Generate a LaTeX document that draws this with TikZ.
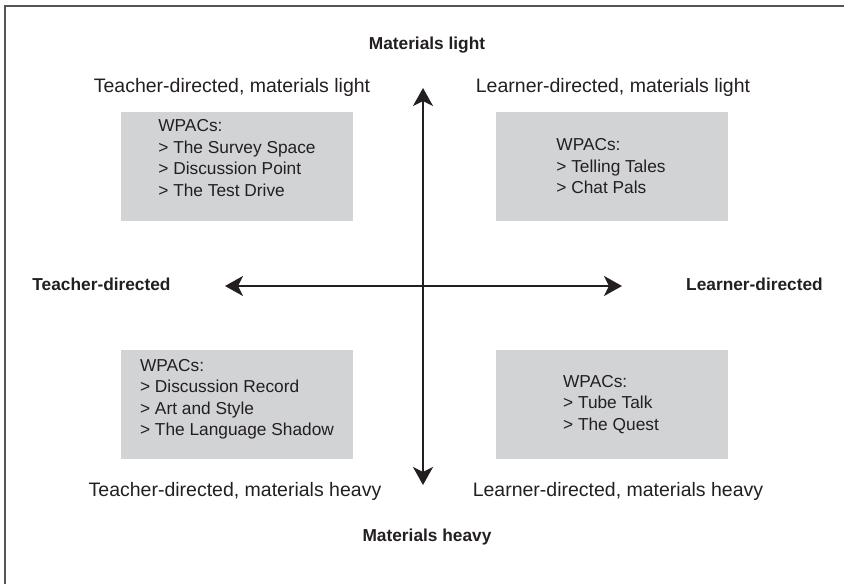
\documentclass[tikz,border=0pt]{standalone}
\usepackage{fontspec}
\setmainfont{Liberation Sans}
\usetikzlibrary{arrows.meta}
\definecolor{boxgrey}{HTML}{D1D3D4}
\definecolor{inkgrey}{HTML}{231F20}
\definecolor{framegrey}{HTML}{555555}
\tikzset{
  axislabel/.style={font=\fontsize{17.3}{20}\selectfont\bfseries, text=inkgrey, inner sep=0pt},
  quadlabel/.style={font=\fontsize{19.5}{23}\selectfont, text=inkgrey, inner sep=0pt},
  wpacbox/.style={fill=boxgrey, minimum width=232pt, minimum height=109pt, inner sep=0pt},
  wpactext/.style={align=left, inner sep=0pt, font=\fontsize{17.3}{21.5}\selectfont, text=inkgrey},
  axisarrow/.style={line width=2pt, inkgrey,
    {Stealth[length=18pt,width=20pt,inset=5pt]}-{Stealth[length=18pt,width=20pt,inset=5pt]}}
}
\begin{document}
\begin{tikzpicture}[x=1pt,y=-1pt]
  \useasboundingbox (0,0) rectangle (844,584);
  % outer frame (only its top and left edges fall inside the page)
  \draw[framegrey, line width=1.4pt] (5,590) -- (5,6) -- (850,6);

  % axis titles
  \node[axislabel] (mlight) at (427,45) {Materials light};
  \node[axislabel] (mheavy) at (427,537) {Materials heavy};
  \node[axislabel] (tdir) at (101.5,284) {Teacher-directed};
  \node[axislabel] (ldir) at (754.5,284) {Learner-directed};

  % quadrant titles
  \node[quadlabel] (tl) at (232,87) {Teacher-directed, materials light};
  \node[quadlabel] (tr) at (613,87) {Learner-directed, materials light};
  \node[quadlabel] (bl) at (235,491) {Teacher-directed, materials heavy};
  \node[quadlabel] (br) at (618,491) {Learner-directed, materials heavy};

  % activity boxes
  \node[wpacbox] (boxtl) at (237,166.5) {};
  \node[wpacbox] (boxtr) at (612,166.5) {};
  \node[wpacbox] (boxbl) at (237,404.5) {};
  \node[wpacbox] (boxbr) at (612,404.5) {};
  \node[wpactext] (txttl) at (237,158) {WPACs:\\> The Survey Space\\> Discussion Point\\> The Test Drive};
  \node[wpactext] (txttr) at (611,166.5) {WPACs:\\> Telling Tales\\> Chat Pals};
  \node[wpactext] (txtbl) at (237,399) {WPACs:\\> Discussion Record\\> Art and Style\\> The Language Shadow};
  \node[wpactext] (txtbr) at (611,404.5) {WPACs:\\> Tube Talk\\> The Quest};

  % axes
  \coordinate (vtop) at (423,88);
  \coordinate (vbot) at (423,485);
  \coordinate (hleft) at (225,286);
  \coordinate (hright) at (622,286);
  \draw[axisarrow] (vbot) -- (vtop);
  \draw[axisarrow] (hleft) -- (hright);
\end{tikzpicture}
\end{document}
